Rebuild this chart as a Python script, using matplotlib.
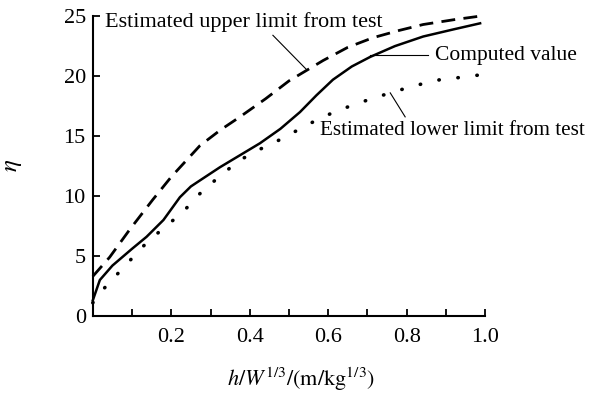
import matplotlib.pyplot as plt
import numpy as np

plt.rcParams['font.family'] = ['Liberation Serif', 'DejaVu Serif']
plt.rcParams['mathtext.fontset'] = 'stix'

# curve data
x_comp = [0.0, 0.018, 0.05, 0.1, 0.137, 0.18, 0.222, 0.25, 0.273, 0.324, 0.375, 0.426, 0.478, 0.528,
          0.57, 0.612, 0.66, 0.707, 0.77, 0.842, 0.92, 0.987]
y_comp = [1.3, 3.0, 4.2, 5.6, 6.6, 8.0, 9.9, 10.8, 11.3, 12.4, 13.4, 14.4, 15.6, 17.0,
          18.4, 19.7, 20.8, 21.6, 22.5, 23.3, 23.9, 24.4]

x_upper = [0.0, 0.043, 0.094, 0.153, 0.2, 0.273, 0.325, 0.375, 0.44, 0.5, 0.587, 0.65, 0.714, 0.78,
           0.842, 0.92, 0.987]
y_upper = [3.3, 4.9, 7.2, 9.7, 11.6, 14.2, 15.5, 16.6, 18.1, 19.6, 21.3, 22.4, 23.2, 23.8,
           24.3, 24.7, 25.0]

x_lower = [0.0, 0.026, 0.077, 0.128, 0.189, 0.222, 0.273, 0.325, 0.375, 0.426, 0.477, 0.528, 0.58,
           0.63, 0.7, 0.758, 0.82, 0.885, 0.94, 0.987]
y_lower = [1.1, 2.2, 4.0, 5.8, 7.6, 8.4, 10.2, 11.7, 13.0, 13.9, 14.7, 15.6, 16.5,
           17.2, 18.0, 18.6, 19.2, 19.7, 19.9, 20.1]

x_ticks = [0.2, 0.4, 0.6, 0.8, 1.0]
x_minor = [0.1, 0.3, 0.5, 0.7, 0.9]
y_ticks = [0, 5, 10, 15, 20, 25]

fig = plt.figure(figsize=(5.91, 3.93), dpi=100)
ax = fig.add_axes([0.157, 0.196, 0.664, 0.763])

ax.plot(x_upper, y_upper, color='black', lw=2.0, linestyle=(0, (5, 3)), clip_on=False)
ax.plot(x_comp, y_comp, color='black', lw=1.8, clip_on=False)
ax.plot(x_lower, y_lower, color='black', lw=2.6, linestyle=(0, (0.1, 5.2)),
        dash_capstyle='round', clip_on=False)

ax.set_xlim(0, 1.0)
ax.set_ylim(0, 25)
ax.set_xticks(x_ticks)
ax.set_xticklabels(['0.2', '0.4', '0.6', '0.8', '1.0'])
ax.set_xticks(x_minor, minor=True)
ax.set_yticks(y_ticks)

for s in ['top', 'right']:
    ax.spines[s].set_visible(False)
for s in ['left', 'bottom']:
    ax.spines[s].set_linewidth(1.5)

ax.tick_params(which='both', direction='in', length=5, width=1.3, labelsize=16)
ax.tick_params(axis='x', pad=9)
ax.tick_params(axis='y', pad=5)

# annotations
ax.text(0.03, 24.5, 'Estimated upper limit from test', fontsize=16, va='center', ha='left')
ax.plot([0.459, 0.546], [23.4, 20.5], color='black', lw=0.8)
ax.text(0.872, 21.75, 'Computed value', fontsize=15.5, va='center', ha='left', clip_on=False)
ax.plot([0.707, 0.855], [21.75, 21.75], color='black', lw=0.8)
ax.text(0.578, 15.5, 'Estimated lower limit from test', fontsize=15.2, va='center', ha='left', clip_on=False)
ax.plot([0.758, 0.796], [18.6, 16.6], color='black', lw=0.8)

fig.text(0.022, 0.58, r'$\eta$', fontsize=18, ha='center', va='center', rotation=90)
fig.text(0.51, 0.035, r'$h/W^{1/3}/(\mathrm{m/kg}^{1/3})$', fontsize=16, ha='center', va='center')

fig.savefig('out.png', dpi=100)
